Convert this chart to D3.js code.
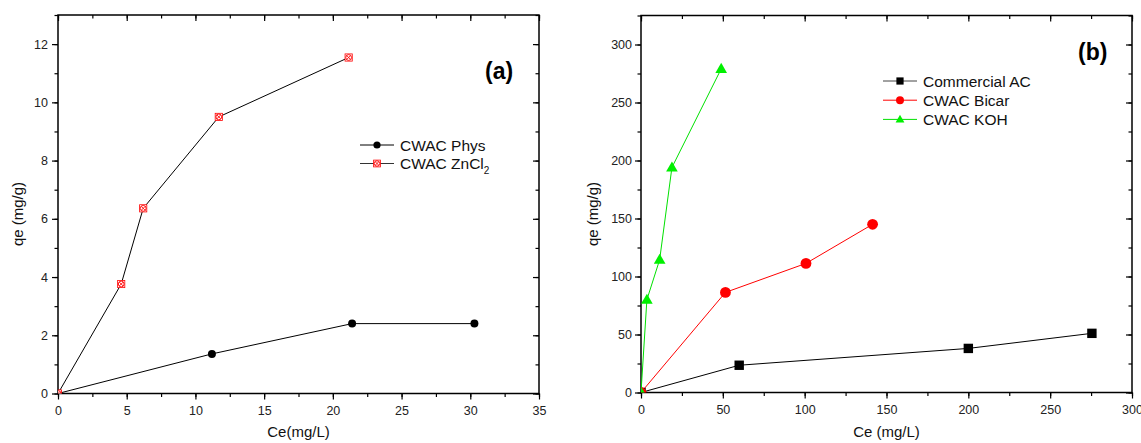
<!DOCTYPE html>
<html>
<head>
<meta charset="utf-8">
<script src="https://cdnjs.cloudflare.com/ajax/libs/d3/7.8.5/d3.min.js"></script>
<style>
  body { margin: 0; background: #fff; }
  svg { display: block; font-family: "Liberation Sans", Arial, sans-serif; }
</style>
</head>
<body>
<div id="chart"></div>
<script>
// Panel (a) data
const physCe = [0, 11.2, 21.4, 30.3];
const physQe = [0, 1.36, 2.4, 2.4];
const zncl2Ce = [0, 4.6, 6.2, 11.7, 21.15];
const zncl2Qe = [0, 3.76, 6.36, 9.5, 11.54];

// Panel (b) data
const commCe = [0, 60, 200, 275.5];
const commQe = [0, 23.5, 38, 51];
const bicarCe = [0, 51.6, 100.8, 141.5];
const bicarQe = [0, 86.3, 111.3, 145];
const kohCe = [0, 3.6, 11.4, 18.9, 49];
const kohQe = [0, 80, 114.5, 194, 279];

// Ticks
const ticksA_x = [0, 5, 10, 15, 20, 25, 30, 35];
const ticksA_y = [0, 2, 4, 6, 8, 10, 12];
const ticksB_x = [0, 50, 100, 150, 200, 250, 300];
const ticksB_y = [0, 50, 100, 150, 200, 250, 300];

const width = 1141, height = 443;
const svg = d3.select('#chart').append('svg')
    .attr('width', width)
    .attr('height', height);

const zip = (xs, ys) => xs.map((x, i) => ({ x, y: ys[i] }));

// Marker drawing helpers
function drawMarker(sel, type, color, s) {
    if (type === 'circle') {
        sel.append('circle').attr('r', s).attr('fill', color);
    } else if (type === 'square') {
        sel.append('rect').attr('x', -s).attr('y', -s)
            .attr('width', 2 * s).attr('height', 2 * s).attr('fill', color);
    } else if (type === 'triangle') {
        const h = s * 1.9;
        sel.append('path')
            .attr('d', `M0,${-h * 0.6}L${s * 1.1},${h * 0.4}L${-s * 1.1},${h * 0.4}Z`)
            .attr('fill', color);
    } else if (type === 'xcircle') {
        sel.append('rect').attr('x', -s).attr('y', -s)
            .attr('width', 2 * s).attr('height', 2 * s)
            .attr('fill', '#fff').attr('stroke', color).attr('stroke-width', 0.8);
        sel.append('circle').attr('r', s * 0.8)
            .attr('fill', 'none').attr('stroke', color).attr('stroke-width', 0.9);
        const d = s * 0.55;
        sel.append('path')
            .attr('d', `M${-d},${-d}L${d},${d}M${d},${-d}L${-d},${d}`)
            .attr('stroke', color).attr('stroke-width', 0.9);
    }
}

function panel(cfg) {
    const { x0, x1, y0, y1 } = cfg.box;
    const x = d3.scaleLinear().domain(cfg.xDomain).range([x0, x1]);
    const y = d3.scaleLinear().domain(cfg.yDomain).range([y1, y0]);
    const g = svg.append('g');

    const clipId = 'clip-' + cfg.id;
    svg.append('clipPath').attr('id', clipId)
        .append('rect').attr('x', x0).attr('y', y0)
        .attr('width', x1 - x0).attr('height', y1 - y0);

    const minorX = d3.range(cfg.xDomain[0] + cfg.xMinor / 2 * 0, cfg.xDomain[1] + 1e-9, cfg.xMinor);
    const minorY = d3.range(cfg.yDomain[0], cfg.yDomain[1] + 1e-9, cfg.yMinor);

    const styleAxis = a => {
        a.select('.domain').remove();
        a.selectAll('line').attr('stroke', '#000').attr('stroke-width', 1.2);
        a.selectAll('text').attr('fill', '#222').style('font-size', '12.5px');
    };

    // bottom axis (outward ticks)
    g.append('g').attr('transform', `translate(0,${y1})`)
        .call(d3.axisBottom(x).tickValues(minorX).tickSize(3.5).tickFormat(''))
        .call(styleAxis);
    g.append('g').attr('transform', `translate(0,${y1})`)
        .call(d3.axisBottom(x).tickValues(cfg.xTicks).tickSize(6).tickPadding(7).tickFormat(d3.format('d')))
        .call(styleAxis);
    // left axis (outward ticks)
    g.append('g').attr('transform', `translate(${x0},0)`)
        .call(d3.axisLeft(y).tickValues(minorY).tickSize(3.5).tickFormat(''))
        .call(styleAxis);
    g.append('g').attr('transform', `translate(${x0},0)`)
        .call(d3.axisLeft(y).tickValues(cfg.yTicks).tickSize(6).tickPadding(cfg.yPad).tickFormat(d3.format('d')))
        .call(styleAxis);
    // top mirror (inward ticks)
    g.append('g').attr('transform', `translate(0,${y0})`)
        .call(d3.axisTop(x).tickValues(minorX).tickSize(-3.5).tickFormat(''))
        .call(styleAxis);
    g.append('g').attr('transform', `translate(0,${y0})`)
        .call(d3.axisTop(x).tickValues(cfg.xTicks).tickSize(-6).tickFormat(''))
        .call(styleAxis);
    // right mirror (inward ticks)
    g.append('g').attr('transform', `translate(${x1},0)`)
        .call(d3.axisRight(y).tickValues(minorY).tickSize(-3.5).tickFormat(''))
        .call(styleAxis);
    g.append('g').attr('transform', `translate(${x1},0)`)
        .call(d3.axisRight(y).tickValues(cfg.yTicks).tickSize(-6).tickFormat(''))
        .call(styleAxis);

    // frame
    g.append('rect')
        .attr('x', x0).attr('y', y0)
        .attr('width', x1 - x0).attr('height', y1 - y0)
        .attr('fill', 'none').attr('stroke', '#000').attr('stroke-width', 1.5);

    // series
    const line = d3.line().x(d => x(d.x)).y(d => y(d.y));
    const plot = g.append('g').attr('clip-path', `url(#${clipId})`);
    cfg.series.forEach(s => {
        plot.append('path')
            .datum(s.data)
            .attr('d', line)
            .attr('fill', 'none')
            .attr('stroke', s.lineColor)
            .attr('stroke-width', 1);
    });
    cfg.series.forEach(s => {
        plot.selectAll(null)
            .data(s.data)
            .join('g')
            .attr('transform', d => `translate(${x(d.x)},${y(d.y)})`)
            .each(function () { drawMarker(d3.select(this), s.marker, s.color, s.size); });
    });

    // legend
    cfg.series.forEach((s, i) => {
        const ly = cfg.legend.y + i * cfg.legend.dy;
        const lx = cfg.legend.x;
        const lg = g.append('g');
        lg.append('line')
            .attr('x1', lx - 17).attr('x2', lx + 17)
            .attr('y1', ly).attr('y2', ly)
            .attr('stroke', s.legendLine).attr('stroke-width', 1);
        const mk = lg.append('g').attr('transform', `translate(${lx},${ly})`);
        drawMarker(mk, s.marker, s.color, s.legendSize);
        const t = lg.append('text')
            .attr('x', lx + 23).attr('y', ly + 5.5)
            .attr('fill', '#111')
            .style('font-size', '15.5px');
        t.append('tspan').text(s.label);
        if (s.sub) {
            t.append('tspan').text(s.sub).attr('dy', 5).style('font-size', '10px');
        }
    });

    // axis titles
    g.append('text')
        .attr('x', (x0 + x1) / 2).attr('y', 437)
        .attr('text-anchor', 'middle')
        .attr('fill', '#111')
        .style('font-size', '15px')
        .text(cfg.xLabel);
    g.append('text')
        .attr('transform', `translate(${cfg.yLabelX},214) rotate(-90)`)
        .attr('text-anchor', 'middle')
        .attr('fill', '#111')
        .style('font-size', '15px')
        .text(cfg.yLabel);

    // panel tag
    g.append('text')
        .attr('x', cfg.tag.x).attr('y', cfg.tag.y)
        .attr('fill', '#000')
        .style('font-size', '23px')
        .style('font-weight', 'bold')
        .text(cfg.tag.text);
}

panel({
    id: 'a',
    box: { x0: 58, x1: 539, y0: 15, y1: 393.5 },
    xDomain: [0, 35], yDomain: [0, 13],
    xTicks: ticksA_x, yTicks: ticksA_y,
    xMinor: 2.5, yMinor: 1, yPad: 4,
    xLabel: 'Ce(mg/L)', yLabel: 'qe (mg/g)', yLabelX: 23,
    tag: { text: '(a)', x: 485, y: 79 },
    legend: { x: 377, y: 145, dy: 18.5 },
    series: [
        { label: 'CWAC Phys', data: zip(physCe, physQe), marker: 'circle', color: '#000',
          lineColor: '#000', legendLine: '#000', size: 4, legendSize: 3.6 },
        { label: 'CWAC ZnCl', sub: '2', data: zip(zncl2Ce, zncl2Qe), marker: 'xcircle', color: '#f00',
          lineColor: '#000', legendLine: '#333', size: 3.6, legendSize: 3.4 }
    ]
});

panel({
    id: 'b',
    box: { x0: 641, x1: 1132, y0: 15.5, y1: 392.5 },
    xDomain: [0, 300], yDomain: [0, 325],
    xTicks: ticksB_x, yTicks: ticksB_y,
    xMinor: 25, yMinor: 25, yPad: 3,
    xLabel: 'Ce (mg/L)', yLabel: 'qe (mg/g)', yLabelX: 598,
    tag: { text: '(b)', x: 1078, y: 60 },
    legend: { x: 900, y: 81, dy: 19.2 },
    series: [
        { label: 'Commercial AC', data: zip(commCe, commQe), marker: 'square', color: '#000',
          lineColor: '#000', legendLine: '#444', size: 4.7, legendSize: 3.6 },
        { label: 'CWAC Bicar', data: zip(bicarCe, bicarQe), marker: 'circle', color: '#f00',
          lineColor: '#f00', legendLine: '#f00', size: 5.4, legendSize: 4 },
        { label: 'CWAC KOH', data: zip(kohCe, kohQe), marker: 'triangle', color: '#00f000',
          lineColor: '#00e000', legendLine: '#00e000', size: 5.3, legendSize: 4 }
    ]
});
</script>
</body>
</html>
